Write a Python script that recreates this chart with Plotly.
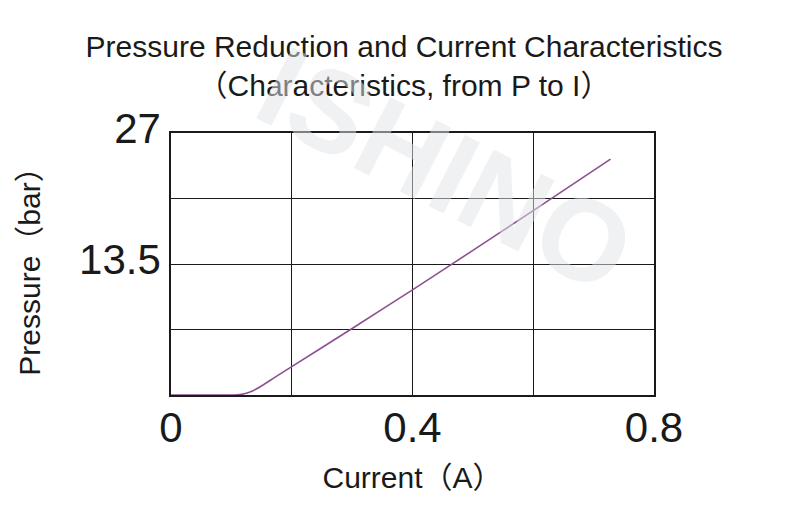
import plotly.graph_objects as go

# Pressure vs current curve
current = [0.0, 0.05, 0.105, 0.12, 0.135, 0.147, 0.17, 0.2, 0.3, 0.4, 0.5, 0.6, 0.728]
pressure = [0.0, 0.0, 0.0, 0.11, 0.42, 0.83, 1.74, 2.92, 6.85, 10.84, 14.9, 19.0, 24.3]

x_ticks = [0, 0.2, 0.4, 0.6, 0.8]
x_labels = ["0", "", "0.4", "", "0.8"]
y_ticks = [0, 6.75, 13.5, 20.25, 27]
y_labels = ["", "", "13.5", "", "27"]

font = "Liberation Sans, Arial, Noto Sans CJK SC, sans-serif"

fig = go.Figure()
fig.add_trace(go.Scatter(
    x=current, y=pressure, mode="lines",
    line=dict(color="#8c4f91", width=1.6, shape="spline", smoothing=0.5),
    hoverinfo="skip", showlegend=False,
))

# faint watermark
fig.add_annotation(
    text="<b>ISHINO</b>", xref="paper", yref="paper", x=0.57, y=0.86,
    xanchor="center", yanchor="middle",
    showarrow=False, textangle=27,
    font=dict(family=font, size=116, color="rgba(225,227,232,0.5)"),
)

# page body has an 8px margin, so the figure is 8px smaller than the window
fig.update_layout(
    width=792, height=498,
    margin=dict(l=163, r=146, t=125, b=111),
    paper_bgcolor="white", plot_bgcolor="white",
    font=dict(family=font, color="#1a1a1a"),
    title=dict(
        text="Pressure Reduction and Current Characteristics<br>（Characteristics, from P to I）",
        x=0.5, xanchor="center", y=0.902, yanchor="top",
        font=dict(size=30, color="#1a1a1a"),
    ),
)
fig.update_xaxes(
    range=[0, 0.8], tickvals=x_ticks, ticktext=x_labels, automargin=False,
    showgrid=True, gridcolor="#1a1a1a", gridwidth=1.3,
    showline=True, linecolor="#1a1a1a", linewidth=1.5, mirror=True,
    zeroline=False, ticks="", tickfont=dict(size=42), ticklabelstandoff=-5,
    title=dict(text="Current（A）", font=dict(size=30), standoff=17),
)
fig.update_yaxes(
    range=[0, 27], tickvals=y_ticks, ticktext=y_labels, automargin=False,
    showgrid=True, gridcolor="#1a1a1a", gridwidth=1.3,
    showline=True, linecolor="#1a1a1a", linewidth=1.5, mirror=True,
    zeroline=False, ticks="", tickfont=dict(size=42), ticklabelshift=-5,
    title=dict(text="Pressure（bar）", font=dict(size=30), standoff=30),
)

fig.write_html("out.html")
